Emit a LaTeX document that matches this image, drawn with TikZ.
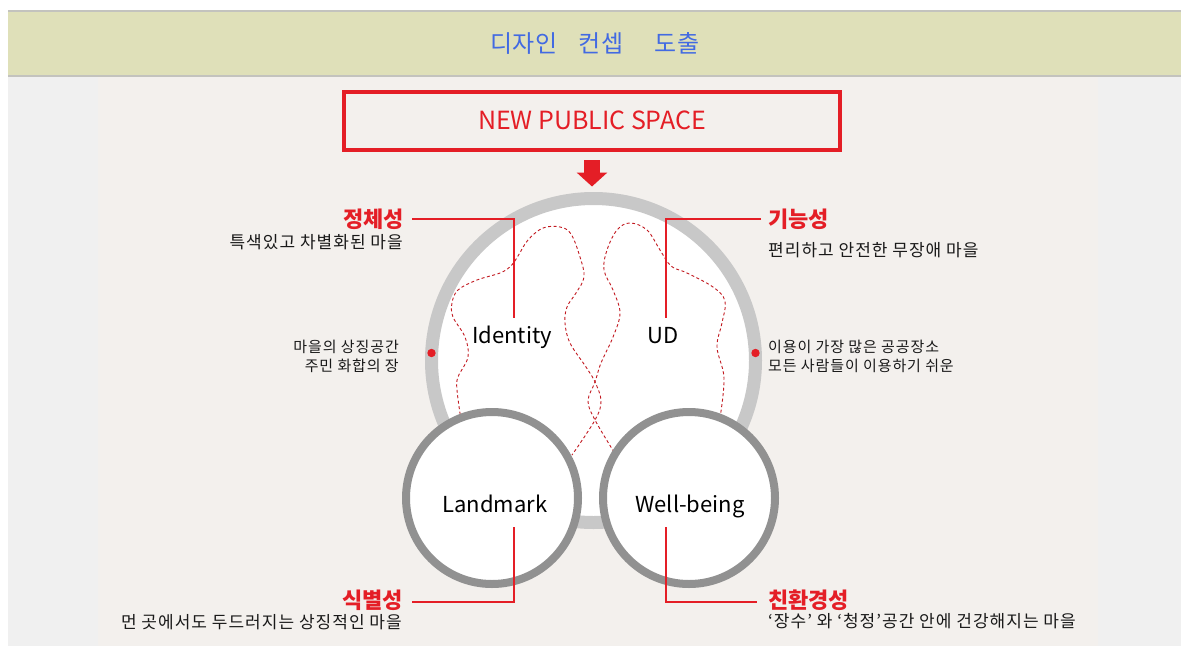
\documentclass[tikz,border=0pt]{standalone}
\usepackage{fontspec}
\usetikzlibrary{arrows.meta}
\setmainfont{Noto Sans CJK KR}
\newfontfamily\titlefont[LetterSpace=3]{Noto Sans CJK KR}
\newfontfamily\descfont[LetterSpace=6]{Noto Sans CJK KR}
\definecolor{hdr}{RGB}{223,224,185}
\definecolor{hdrline}{RGB}{195,195,190}
\definecolor{bgout}{RGB}{240,240,240}
\definecolor{panel}{RGB}{243,240,237}
\definecolor{pred}{RGB}{228,30,38}
\definecolor{ringbig}{RGB}{200,200,200}
\definecolor{ringsmall}{RGB}{145,145,145}
\definecolor{tblue}{RGB}{66,106,226}
\definecolor{txt}{RGB}{25,25,25}
\tikzset{
  lead/.style={draw=pred, line width=1.1pt},
  wave/.style={draw=pred!85!black, line width=0.9pt, dash pattern=on 3pt off 2.5pt},
  redlbl/.style={text=pred, font=\fontsize{22}{26}\selectfont\bfseries, inner sep=0pt},
  desc/.style={text=txt, font=\descfont\fontsize{17}{20}\selectfont, inner sep=0pt},
  side/.style={text=txt, font=\descfont\fontsize{15}{19}\selectfont, inner sep=0pt, align=#1},
  eng/.style={text=black, font=\fontsize{22}{26}\selectfont, inner sep=0pt},
  ttl/.style={anchor=base, text=tblue, font=\titlefont\fontsize{24}{26}\selectfont, inner sep=0pt},
  bigring/.style={circle, draw=ringbig, line width=13pt, fill=white, minimum size=324pt, inner sep=0pt},
  smallring/.style={circle, draw=ringsmall, line width=8pt, fill=white, minimum size=172pt, inner sep=0pt}
}
\begin{document}
\begin{tikzpicture}[x=1pt,y=-1pt]
\useasboundingbox (0,0) rectangle (1181,646);
\fill[white] (0,0) rectangle (1181,646);
\fill[bgout] (8,75) rectangle (1181,646);
\fill[panel] (98,77) rectangle (1098,646);
\fill[hdr] (8,11) rectangle (1181,75);
\draw[hdrline, line width=1.2pt] (8,11) -- (1181,11);
\draw[hdrline, line width=2pt] (8,75.5) -- (1181,75.5);
\node[ttl] (t1) at (524,52) {디자인};
\node[ttl] (t2) at (601,52) {컨셉};
\node[ttl] (t3) at (677,52) {도출};

% top box and arrow
\node[draw=pred, line width=4pt, minimum width=496pt, minimum height=58pt, inner sep=0pt, text=pred, font=\fontsize{25}{28}\selectfont] (nps) at (592,120.5) {NEW PUBLIC SPACE};
\coordinate (arrS) at (592,160);
\coordinate (arrE) at (592,186.5);
\draw[pred, line width=16pt, -{Triangle[width=30pt,length=14pt]}] (arrS) -- (arrE);

% big circle
\node[bigring] (big) at (593.5,360.5) {};
\fill[pred] (431.5,353) circle (4.2);
\fill[pred] (755.5,353) circle (4.2);

% dashed waves
\draw[wave] plot[smooth, tension=0.6] coordinates {(461,420) (457,390) (458,377) (468,357) (465,337) (453,317) (452,303) (458,290) (477,280) (500,273) (511,266) (518,256) (528,240) (543,228) (560,227) (571,234) (580,257) (584,277) (576,293) (567,307) (565,323) (570,343) (586,367) (595,382) (601,401) (595,420) (572,455)};
\draw[wave] plot[smooth, tension=0.6] coordinates {(720,418) (724,378) (717,347) (722,323) (725,301) (713,287) (687,273) (671,266) (660,250) (647,230) (630,223) (617,230) (607,250) (604,270) (613,290) (620,313) (613,337) (601,363) (595,382) (588,401) (595,420) (614,452)};

% small circles
\node[smallring] (lm) at (492,498) {};
\node[smallring] (wb) at (689,498) {};

% centre labels
\node[eng, anchor=base] (idt) at (512,343) {Identity};
\node[eng, anchor=base] (ud) at (663,343) {UD};
\node[eng, anchor=base] (lmt) at (495,512) {Landmark};
\node[eng, anchor=base] (wbt) at (690,512) {Well-being};

% outer labels
\node[redlbl, anchor=base east] (jc) at (404,227) {정체성};
\node[desc, anchor=base east] (jcd) at (403,248) {특색있고 차별화된 마을};
\node[redlbl, anchor=base west] (gn) at (768,227) {기능성};
\node[desc, anchor=base west] (gnd) at (768,256) {편리하고 안전한 무장애 마을};
\node[side=right, anchor=north east] (sl) at (399,340) {마을의 상징공간\\주민 화합의 장};
\node[side=left, anchor=north west] (sr) at (768,340) {이용이 가장 많은 공공장소\\모든 사람들이 이용하기 쉬운};
\node[redlbl, anchor=base east] (sb) at (403,608) {식별성};
\node[desc, anchor=base east] (sbd) at (402,628) {먼 곳에서도 두드러지는 상징적인 마을};
\node[redlbl, anchor=base west] (ch) at (768,608) {친환경성};
\node[desc, anchor=base west] (chd) at (768,627) {‘장수’ 와 ‘청정’공간 안에 건강해지는 마을};

% leader lines
\coordinate (l1a) at (412,219); \coordinate (l1b) at (514,219); \coordinate (l1c) at (514,318);
\coordinate (l2a) at (761,219); \coordinate (l2b) at (666,219); \coordinate (l2c) at (666,318);
\coordinate (l3a) at (514,527); \coordinate (l3b) at (514,602); \coordinate (l3c) at (412,602);
\coordinate (l4a) at (666,527); \coordinate (l4b) at (666,602); \coordinate (l4c) at (757,602);
\draw[lead] (l1a) -- (l1b) -- (l1c);
\draw[lead] (l2a) -- (l2b) -- (l2c);
\draw[lead] (l3a) -- (l3b) -- (l3c);
\draw[lead] (l4a) -- (l4b) -- (l4c);
\end{tikzpicture}
\end{document}
